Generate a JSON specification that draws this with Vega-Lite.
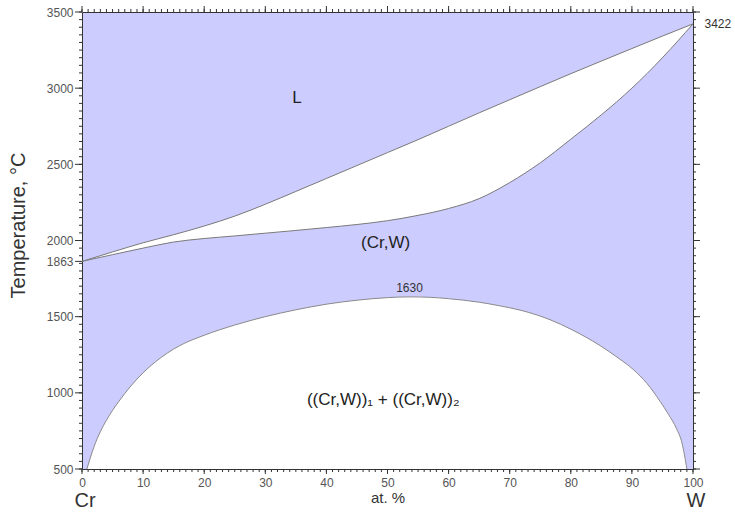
{
  "$schema": "https://vega.github.io/schema/vega-lite/v6.json",
  "width": 611,
  "height": 457,
  "autosize": {"type": "none"},
  "padding": {"left": 82, "top": 12, "right": 42, "bottom": 44},
  "background": "white",
  "config": {
    "view": {"fill": "#ccccff", "stroke": "#333333", "strokeWidth": 1},
    "font": "Liberation Sans",
    "axis": {
      "labelFont": "Liberation Sans",
      "labelFontSize": 12,
      "labelColor": "#555555",
      "domainColor": "#333333",
      "grid": false,
      "zindex": 1,
      "titleFont": "Liberation Sans",
      "titleFontWeight": "normal",
      "titleColor": "#333333"
    }
  },
  "datasets": {
    "lens": [
      {"x": 0, "sol": 1863, "liq": 1863},
      {"x": 5, "sol": 1907, "liq": 1925},
      {"x": 10, "sol": 1950, "liq": 1985},
      {"x": 15, "sol": 1990, "liq": 2038},
      {"x": 20, "sol": 2013, "liq": 2095},
      {"x": 25, "sol": 2030, "liq": 2160},
      {"x": 30, "sol": 2048, "liq": 2238},
      {"x": 35, "sol": 2066, "liq": 2322},
      {"x": 40, "sol": 2085, "liq": 2407},
      {"x": 45, "sol": 2105, "liq": 2492},
      {"x": 50, "sol": 2130, "liq": 2577},
      {"x": 55, "sol": 2165, "liq": 2662},
      {"x": 60, "sol": 2210, "liq": 2750},
      {"x": 65, "sol": 2275, "liq": 2838},
      {"x": 70, "sol": 2380, "liq": 2924},
      {"x": 75, "sol": 2510, "liq": 3010},
      {"x": 80, "sol": 2665, "liq": 3095},
      {"x": 85, "sol": 2825, "liq": 3178},
      {"x": 90, "sol": 3000, "liq": 3260},
      {"x": 95, "sol": 3200, "liq": 3342},
      {"x": 100, "sol": 3422, "liq": 3422}
    ],
    "gap": [
      {"x": 0.8, "t": 500},
      {"x": 2, "t": 650},
      {"x": 3, "t": 745},
      {"x": 4, "t": 820},
      {"x": 5, "t": 885},
      {"x": 6, "t": 942},
      {"x": 8, "t": 1045},
      {"x": 10, "t": 1132},
      {"x": 12, "t": 1203},
      {"x": 14, "t": 1262},
      {"x": 16, "t": 1310},
      {"x": 20, "t": 1378},
      {"x": 25, "t": 1445},
      {"x": 30, "t": 1500},
      {"x": 35, "t": 1545},
      {"x": 40, "t": 1582},
      {"x": 45, "t": 1608},
      {"x": 50, "t": 1625},
      {"x": 53.5, "t": 1630},
      {"x": 57, "t": 1627},
      {"x": 60, "t": 1618},
      {"x": 65, "t": 1595},
      {"x": 68.4, "t": 1571},
      {"x": 72, "t": 1540},
      {"x": 76.6, "t": 1480},
      {"x": 80, "t": 1418},
      {"x": 84.8, "t": 1310},
      {"x": 88, "t": 1222},
      {"x": 90.2, "t": 1154},
      {"x": 92.5, "t": 1060},
      {"x": 94.6, "t": 945},
      {"x": 96, "t": 858},
      {"x": 97.3, "t": 765},
      {"x": 98.2, "t": 670},
      {"x": 99, "t": 500}
    ],
    "phases": [
      {"x": 35.2, "t": 2938, "label": "L"},
      {"x": 49.7, "t": 1981, "label": "(Cr,W)"},
      {"x": 49.3, "t": 954, "label": "((Cr,W))₁ + ((Cr,W))₂"}
    ],
    "points": [
      {"x": 53.6, "t": 1630, "label": "1630"}
    ],
    "elements": [
      {"x": 0, "t": 500, "label": "Cr"},
      {"x": 100, "t": 500, "label": "W"}
    ],
    "xticks": [
      {"v": 0}, {"v": 1}, {"v": 2}, {"v": 3}, {"v": 4}, {"v": 5}, {"v": 6}, {"v": 7}, {"v": 8}, {"v": 9},
      {"v": 10}, {"v": 11}, {"v": 12}, {"v": 13}, {"v": 14}, {"v": 15}, {"v": 16}, {"v": 17}, {"v": 18}, {"v": 19},
      {"v": 20}, {"v": 21}, {"v": 22}, {"v": 23}, {"v": 24}, {"v": 25}, {"v": 26}, {"v": 27}, {"v": 28}, {"v": 29},
      {"v": 30}, {"v": 31}, {"v": 32}, {"v": 33}, {"v": 34}, {"v": 35}, {"v": 36}, {"v": 37}, {"v": 38}, {"v": 39},
      {"v": 40}, {"v": 41}, {"v": 42}, {"v": 43}, {"v": 44}, {"v": 45}, {"v": 46}, {"v": 47}, {"v": 48}, {"v": 49},
      {"v": 50}, {"v": 51}, {"v": 52}, {"v": 53}, {"v": 54}, {"v": 55}, {"v": 56}, {"v": 57}, {"v": 58}, {"v": 59},
      {"v": 60}, {"v": 61}, {"v": 62}, {"v": 63}, {"v": 64}, {"v": 65}, {"v": 66}, {"v": 67}, {"v": 68}, {"v": 69},
      {"v": 70}, {"v": 71}, {"v": 72}, {"v": 73}, {"v": 74}, {"v": 75}, {"v": 76}, {"v": 77}, {"v": 78}, {"v": 79},
      {"v": 80}, {"v": 81}, {"v": 82}, {"v": 83}, {"v": 84}, {"v": 85}, {"v": 86}, {"v": 87}, {"v": 88}, {"v": 89},
      {"v": 90}, {"v": 91}, {"v": 92}, {"v": 93}, {"v": 94}, {"v": 95}, {"v": 96}, {"v": 97}, {"v": 98}, {"v": 99},
      {"v": 100}
    ],
    "yticks": [
      {"v": 500}, {"v": 550}, {"v": 600}, {"v": 650}, {"v": 700}, {"v": 750}, {"v": 800}, {"v": 850}, {"v": 900}, {"v": 950},
      {"v": 1000}, {"v": 1050}, {"v": 1100}, {"v": 1150}, {"v": 1200}, {"v": 1250}, {"v": 1300}, {"v": 1350}, {"v": 1400}, {"v": 1450},
      {"v": 1500}, {"v": 1550}, {"v": 1600}, {"v": 1650}, {"v": 1700}, {"v": 1750}, {"v": 1800}, {"v": 1850}, {"v": 1900}, {"v": 1950},
      {"v": 2000}, {"v": 2050}, {"v": 2100}, {"v": 2150}, {"v": 2200}, {"v": 2250}, {"v": 2300}, {"v": 2350}, {"v": 2400}, {"v": 2450},
      {"v": 2500}, {"v": 2550}, {"v": 2600}, {"v": 2650}, {"v": 2700}, {"v": 2750}, {"v": 2800}, {"v": 2850}, {"v": 2900}, {"v": 2950},
      {"v": 3000}, {"v": 3050}, {"v": 3100}, {"v": 3150}, {"v": 3200}, {"v": 3250}, {"v": 3300}, {"v": 3350}, {"v": 3400}, {"v": 3450},
      {"v": 3500}
    ],
    "leftMajor": [
      {"v": 500}, {"v": 1000}, {"v": 1500}, {"v": 1863}, {"v": 2000}, {"v": 2500}, {"v": 3000}, {"v": 3500}
    ]
  },
  "layer": [
    {
      "data": {"name": "lens"},
      "mark": {"type": "area", "fill": "white", "interpolate": "monotone"},
      "encoding": {
        "x": {
          "field": "x", "type": "quantitative",
          "scale": {"domain": [0, 100], "nice": false},
          "axis": {
            "orient": "bottom",
            "values": [0, 10, 20, 30, 40, 50, 60, 70, 80, 90, 100],
            "ticks": false,
            "domain": false,
            "labelPadding": 8,
            "labelFlush": false,
            "labelExpr": "'' + datum.value",
            "title": "at. %",
            "titleFontSize": 15,
            "titlePadding": 2
          }
        },
        "y": {
          "field": "sol", "type": "quantitative",
          "scale": {"domain": [500, 3500], "nice": false, "zero": false},
          "axis": {
            "orient": "left",
            "values": [500, 1000, 1500, 1863, 2000, 2500, 3000, 3500],
            "ticks": false,
            "domain": false,
            "labelPadding": 9,
            "labelExpr": "'' + datum.value",
            "title": "Temperature, °C",
            "titleFontSize": 20,
            "titlePadding": 18,
            "titleY": 213
          }
        },
        "y2": {"field": "liq"}
      }
    },
    {
      "data": {"name": "gap"},
      "mark": {"type": "area", "fill": "white", "interpolate": "monotone"},
      "encoding": {
        "x": {"field": "x", "type": "quantitative", "axis": null},
        "y": {"field": "t", "type": "quantitative", "axis": null},
        "y2": {"datum": 500}
      }
    },
    {
      "data": {"name": "lens"},
      "mark": {"type": "line", "stroke": "#7a7a7a", "strokeWidth": 1, "interpolate": "monotone"},
      "encoding": {
        "x": {"field": "x", "type": "quantitative", "axis": null},
        "y": {"field": "liq", "type": "quantitative", "axis": null}
      }
    },
    {
      "data": {"name": "lens"},
      "mark": {"type": "line", "stroke": "#7a7a7a", "strokeWidth": 1, "interpolate": "monotone"},
      "encoding": {
        "x": {"field": "x", "type": "quantitative", "axis": null},
        "y": {"field": "sol", "type": "quantitative", "axis": null}
      }
    },
    {
      "data": {"name": "gap"},
      "mark": {"type": "line", "stroke": "#8a8a8a", "strokeWidth": 1, "interpolate": "monotone"},
      "encoding": {
        "x": {"field": "x", "type": "quantitative", "axis": null},
        "y": {
          "field": "t", "type": "quantitative",
          "axis": {"orient": "right", "values": [3422], "ticks": false, "tickSize": 0, "domain": false, "labelPadding": 11, "labelColor": "#333333", "labelExpr": "'' + datum.value", "title": null}
        }
      }
    },
    {
      "data": {"name": "xticks"},
      "mark": {"type": "rule", "color": "#333333", "strokeWidth": 1, "y2Offset": 3},
      "encoding": {
        "x": {"field": "v", "type": "quantitative", "axis": null},
        "y": {"datum": 500, "axis": null},
        "y2": {"datum": 500}
      }
    },
    {
      "data": {"name": "xticks"},
      "transform": [{"filter": "datum.v % 10 === 0"}],
      "mark": {"type": "rule", "color": "#333333", "strokeWidth": 1, "y2Offset": 5},
      "encoding": {
        "x": {"field": "v", "type": "quantitative", "axis": null},
        "y": {"datum": 500, "axis": null},
        "y2": {"datum": 500}
      }
    },
    {
      "data": {"name": "xticks"},
      "mark": {"type": "rule", "color": "#333333", "strokeWidth": 1, "y2Offset": -3},
      "encoding": {
        "x": {"field": "v", "type": "quantitative", "axis": null},
        "y": {"datum": 3500, "axis": null},
        "y2": {"datum": 3500}
      }
    },
    {
      "data": {"name": "xticks"},
      "transform": [{"filter": "datum.v % 10 === 0"}],
      "mark": {"type": "rule", "color": "#333333", "strokeWidth": 1, "y2Offset": -6},
      "encoding": {
        "x": {"field": "v", "type": "quantitative", "axis": null},
        "y": {"datum": 3500, "axis": null},
        "y2": {"datum": 3500}
      }
    },
    {
      "data": {"name": "yticks"},
      "mark": {"type": "rule", "color": "#333333", "strokeWidth": 1, "x2Offset": -3},
      "encoding": {
        "y": {"field": "v", "type": "quantitative", "axis": null},
        "x": {"datum": 0, "axis": null},
        "x2": {"datum": 0}
      }
    },
    {
      "data": {"name": "leftMajor"},
      "mark": {"type": "rule", "color": "#333333", "strokeWidth": 1, "x2Offset": -7},
      "encoding": {
        "y": {"field": "v", "type": "quantitative", "axis": null},
        "x": {"datum": 0, "axis": null},
        "x2": {"datum": 0}
      }
    },
    {
      "data": {"name": "yticks"},
      "mark": {"type": "rule", "color": "#333333", "strokeWidth": 1, "x2Offset": 3},
      "encoding": {
        "y": {"field": "v", "type": "quantitative", "axis": null},
        "x": {"datum": 100, "axis": null},
        "x2": {"datum": 100}
      }
    },
    {
      "data": {"name": "yticks"},
      "transform": [{"filter": "datum.v % 500 === 0"}],
      "mark": {"type": "rule", "color": "#333333", "strokeWidth": 1, "x2Offset": 7},
      "encoding": {
        "y": {"field": "v", "type": "quantitative", "axis": null},
        "x": {"datum": 100, "axis": null},
        "x2": {"datum": 100}
      }
    },
    {
      "data": {"name": "phases"},
      "mark": {"type": "text", "fontSize": 17, "color": "#222222", "font": "Liberation Sans"},
      "encoding": {
        "x": {"field": "x", "type": "quantitative", "axis": null},
        "y": {"field": "t", "type": "quantitative", "axis": null},
        "text": {"field": "label"}
      }
    },
    {
      "data": {"name": "points"},
      "mark": {"type": "text", "fontSize": 12, "color": "#333333", "dy": -9, "font": "Liberation Sans"},
      "encoding": {
        "x": {"field": "x", "type": "quantitative", "axis": null},
        "y": {"field": "t", "type": "quantitative", "axis": null},
        "text": {"field": "label"}
      }
    },
    {
      "data": {"name": "elements"},
      "mark": {"type": "text", "fontSize": 20, "color": "#333333", "dx": 3, "dy": 32, "font": "Liberation Sans"},
      "encoding": {
        "x": {"field": "x", "type": "quantitative", "axis": null},
        "y": {"field": "t", "type": "quantitative", "axis": null},
        "text": {"field": "label"}
      }
    }
  ],
  "resolve": {"axis": {"x": "independent", "y": "independent"}}
}
